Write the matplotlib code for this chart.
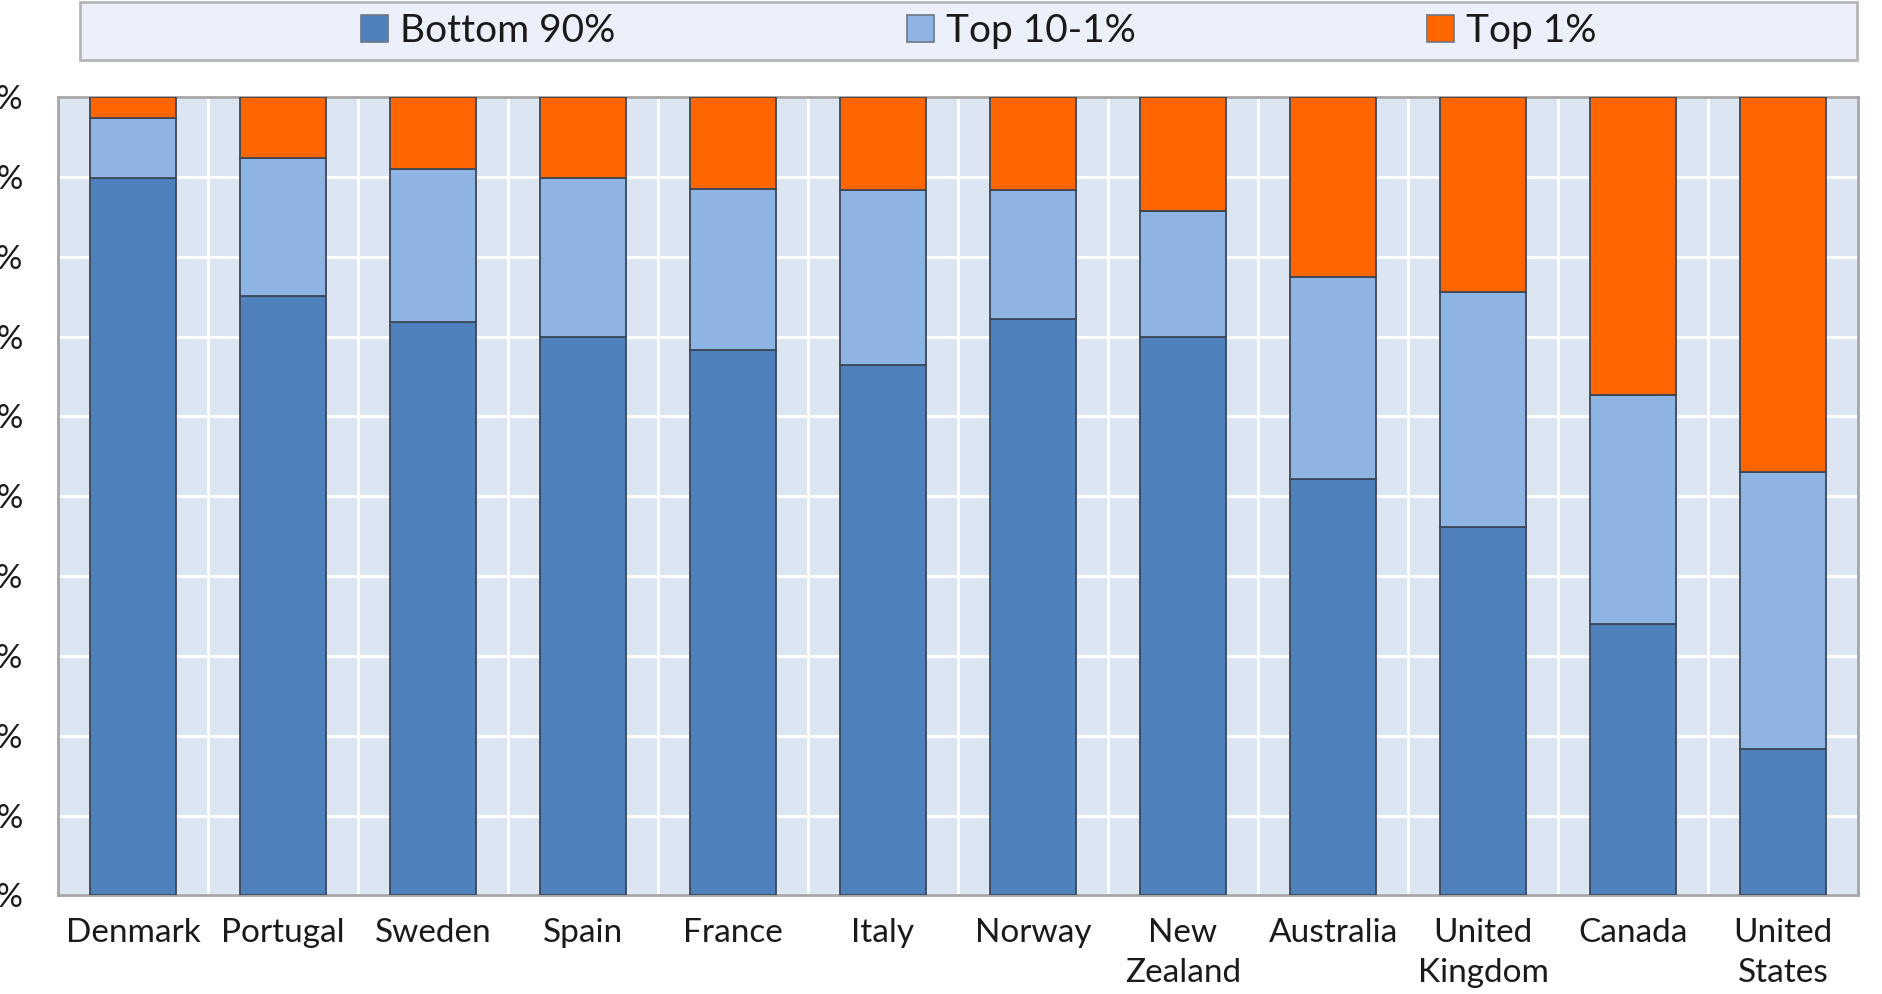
import numpy as np
import matplotlib.pyplot as plt
from matplotlib.patches import Patch, Rectangle

plt.rcParams['font.family'] = ['Lato', 'DejaVu Sans']

countries = ['Denmark', 'Portugal', 'Sweden', 'Spain', 'France', 'Italy', 'Norway',
             'New\nZealand', 'Australia', 'United\nKingdom', 'Canada', 'United\nStates']
bottom90 = [89.9, 75.1, 71.8, 69.9, 68.3, 66.5, 72.2, 70.0, 52.1, 46.2, 34.0, 18.3]
top10_1 = [7.5, 17.3, 19.2, 19.9, 20.2, 21.9, 16.1, 15.7, 25.3, 29.4, 28.7, 34.8]
top1 = [2.6, 7.6, 9.0, 10.2, 11.5, 11.6, 11.7, 14.3, 22.6, 24.4, 37.3, 46.9]
yticks = list(range(0, 101, 10))

c_bot = '#4f81bd'
c_mid = '#8eb4e3'
c_top = '#ff6600'
edge = '#3b4656'

fig = plt.figure(figsize=(18.82, 9.94), dpi=100)
ax = fig.add_axes([0.0308, 0.0991, 0.9565, 0.8033])
ax.set_facecolor('#dce6f2')

x = np.arange(len(countries))
b1 = np.array(bottom90)
b2 = b1 + np.array(top10_1)
w = 0.57
ax.bar(x, bottom90, w, color=c_bot, edgecolor=edge, linewidth=1.3, zorder=3)
ax.bar(x, top10_1, w, bottom=b1, color=c_mid, edgecolor=edge, linewidth=1.3, zorder=3)
ax.bar(x, top1, w, bottom=b2, color=c_top, edgecolor=edge, linewidth=1.3, zorder=3)

ax.set_xlim(-0.5, len(countries) - 0.5)
ax.set_ylim(0, 100)
ax.set_yticks(yticks)
# labels run past the left edge of the picture, as in the original
ax.set_yticklabels([f'{v}%' for v in yticks])
ax.set_xticks(x)
ax.set_xticklabels(countries, linespacing=1.42, va='top')
ax.set_xticks(np.arange(0.5, len(countries) - 1, 1), minor=True)
ax.tick_params(axis='x', which='both', length=0, labelsize=24, pad=16, colors='#1a1a1a')
ax.tick_params(axis='y', length=0, labelsize=24, pad=25, colors='#1a1a1a')
ax.grid(axis='y', color='white', linewidth=2.2, zorder=1)
ax.grid(axis='x', which='minor', color='white', linewidth=2.2, zorder=1)
ax.grid(axis='x', which='major', visible=False)
for s in ax.spines.values():
    s.set_color('#a6a6a6')
    s.set_linewidth(2)

# legend box
box = Rectangle((80 / 1882, 1 - 60 / 994), (1857 - 80) / 1882, 58 / 994,
                transform=fig.transFigure, facecolor='#ebf0fa', edgecolor='#b5b5b5',
                linewidth=2)
fig.patches.append(box)
handles = [Patch(facecolor=c, edgecolor='#6e7785', linewidth=1.2)
           for c in (c_bot, c_mid, c_top)]
fig.legend(handles, ['Bottom 90%', 'Top 10-1%', 'Top 1%'], ncol=3, frameon=False,
           loc='center', bbox_to_anchor=(0.52, 0.969), fontsize=28,
           handlelength=0.7, handleheight=0.7, handletextpad=0.3,
           columnspacing=7.5, labelcolor='#1a1a1a')

fig.savefig('out.png', dpi=100, facecolor='white')
